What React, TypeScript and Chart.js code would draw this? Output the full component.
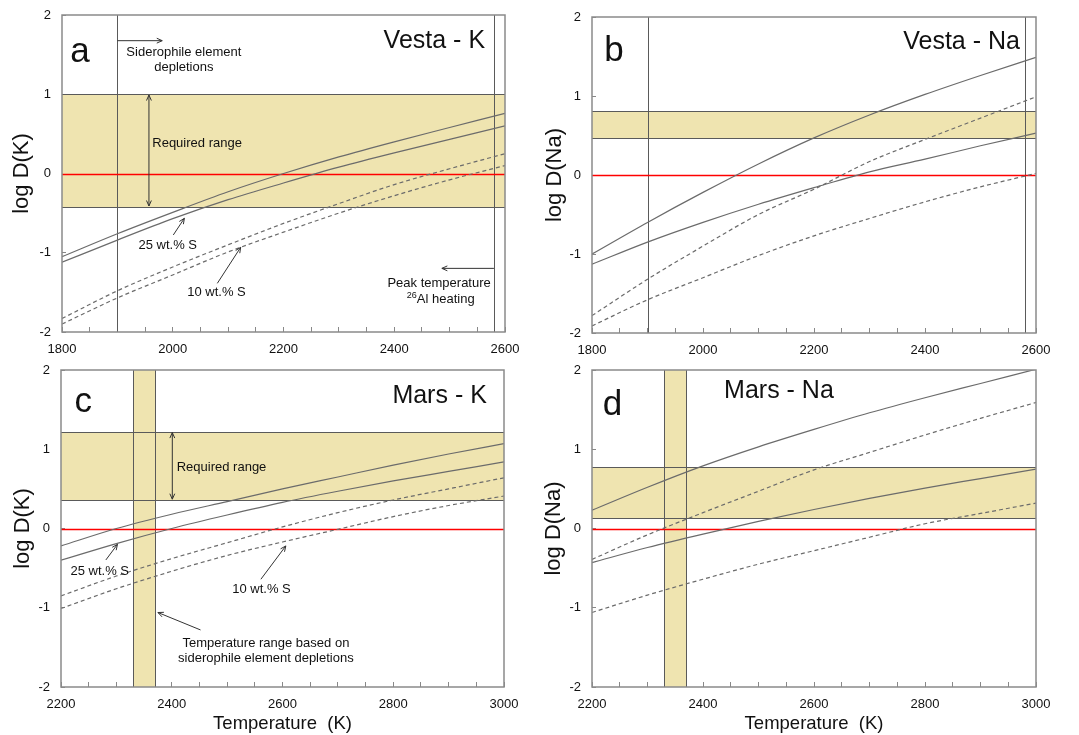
import React, { useEffect, useRef } from "react";
import { Chart, registerables } from "chart.js";
Chart.register(...registerables);

const FONT = "'Liberation Sans', Arial, sans-serif";
const BAND = "#efe4b0";
const CURVE = "#6b6b6b";

// ---------- data ----------
const vestaTemps = [1800, 1900, 2000, 2100, 2200, 2300, 2400, 2500, 2600];
const marsTemps = [2200, 2300, 2400, 2500, 2600, 2700, 2800, 2900, 3000];

const vestaK_solidUpper = [-1.05, -0.76, -0.49, -0.23, 0.0, 0.21, 0.4, 0.58, 0.76];
const vestaK_solidLower = [-1.12, -0.84, -0.57, -0.33, -0.12, 0.08, 0.26, 0.43, 0.6];
const vestaK_dashedUpper = [-1.83, -1.48, -1.18, -0.9, -0.63, -0.38, -0.14, 0.06, 0.25];
const vestaK_dashedLower = [-1.9, -1.57, -1.28, -0.99, -0.74, -0.5, -0.28, -0.08, 0.1];

const vestaNa_solidUpper = [-1.0, -0.6, -0.22, 0.14, 0.47, 0.76, 1.02, 1.26, 1.49];
const vestaNa_solidLower = [-1.13, -0.85, -0.6, -0.37, -0.16, 0.04, 0.2, 0.37, 0.53];
const vestaNa_dashedUpper = [-1.78, -1.32, -0.9, -0.5, -0.18, 0.17, 0.45, 0.72, 0.99];
const vestaNa_dashedLower = [-1.91, -1.58, -1.3, -1.02, -0.77, -0.55, -0.34, -0.15, 0.02];

const marsK_solidUpper = [-0.22, 0.0, 0.18, 0.34, 0.5, 0.65, 0.8, 0.94, 1.07];
const marsK_solidLower = [-0.4, -0.19, 0.0, 0.17, 0.33, 0.47, 0.6, 0.72, 0.84];
const marsK_dashedUpper = [-0.85, -0.6, -0.38, -0.18, 0.02, 0.2, 0.36, 0.5, 0.64];
const marsK_dashedLower = [-1.01, -0.76, -0.54, -0.34, -0.17, -0.01, 0.15, 0.29, 0.41];

const marsNa_solidUpper = [0.23, 0.52, 0.79, 1.03, 1.25, 1.46, 1.65, 1.83, 2.01];
const marsNa_solidLower = [-0.43, -0.24, -0.07, 0.09, 0.24, 0.38, 0.51, 0.63, 0.75];
const marsNa_dashedUpper = [-0.39, -0.08, 0.2, 0.47, 0.74, 0.96, 1.18, 1.39, 1.59];
const marsNa_dashedLower = [-1.06, -0.84, -0.64, -0.45, -0.28, -0.11, 0.06, 0.19, 0.32];

const yTicks = [-2, -1, 0, 1, 2];
const vestaXLabels = [1800, 2000, 2200, 2400, 2600];
const marsXLabels = [2200, 2400, 2600, 2800, 3000];

const vestaK_band = [-0.42, 1.0];
const vestaNa_band = [0.47, 0.81];
const marsK_band = [0.36, 1.22];
const marsNa_band = [0.13, 0.77];
const vesta_vLines = [1900, 2580];
const mars_vBand = [2330, 2370];

// ---------- annotations ----------
type Txt = { x: number; y: number; text: string; size: number; align?: CanvasTextAlign; sup?: string };
type Arr = { x1: number; y1: number; x2: number; y2: number; both?: boolean };

const vestaK_texts: Txt[] = [
  { x: 1832.5, y: 1.411, text: "a", size: 35, align: "center" },
  { x: 2564, y: 1.58, text: "Vesta - K", size: 25, align: "right" },
  { x: 2020, y: 1.483, text: "Siderophile element", size: 13, align: "center" },
  { x: 2020, y: 1.293, text: "depletions", size: 13, align: "center" },
  { x: 1963, y: 0.338, text: "Required range", size: 13, align: "left" },
  { x: 1991, y: -0.953, text: "25 wt.% S", size: 13, align: "center" },
  { x: 2079, y: -1.546, text: "10 wt.% S", size: 13, align: "center" },
  { x: 2481, y: -1.436, text: "Peak temperature", size: 13, align: "center" },
  { x: 2484, y: -1.638, text: "Al heating", sup: "26", size: 13, align: "center" },
];
const vestaK_arrows: Arr[] = [
  { x1: 1900, y1: 1.676, x2: 1981, y2: 1.676 },
  { x1: 1957, y1: 0.99, x2: 1957, y2: -0.41, both: true },
  { x1: 2001, y1: -0.776, x2: 2021, y2: -0.565 },
  { x1: 2080.5, y1: -1.386, x2: 2122.7, y2: -0.931 },
  { x1: 2580, y1: -1.197, x2: 2486, y2: -1.197 },
];
const vestaNa_texts: Txt[] = [
  { x: 1839.6, y: 1.443, text: "b", size: 35, align: "center" },
  { x: 2571, y: 1.6, text: "Vesta - Na", size: 25, align: "right" },
];
const marsK_texts: Txt[] = [
  { x: 2240, y: 1.474, text: "c", size: 35, align: "center" },
  { x: 2969, y: 1.587, text: "Mars - K", size: 25, align: "right" },
  { x: 2409, y: 0.726, text: "Required range", size: 13, align: "left" },
  { x: 2270, y: -0.587, text: "25 wt.% S", size: 13, align: "center" },
  { x: 2562, y: -0.818, text: "10 wt.% S", size: 13, align: "center" },
  { x: 2570, y: -1.49, text: "Temperature range based on", size: 13, align: "center" },
  { x: 2570, y: -1.68, text: "siderophile element depletions", size: 13, align: "center" },
];
const marsK_arrows: Arr[] = [
  { x1: 2401, y1: 1.21, x2: 2401, y2: 0.37, both: true },
  { x1: 2281, y1: -0.397, x2: 2302, y2: -0.2 },
  { x1: 2561, y1: -0.64, x2: 2606, y2: -0.22 },
  { x1: 2452, y1: -1.28, x2: 2375, y2: -1.06 },
];
const marsNa_texts: Txt[] = [
  { x: 2237, y: 1.432, text: "d", size: 35, align: "center" },
  { x: 2438, y: 1.65, text: "Mars - Na", size: 25, align: "left" },
];

type Panel = {
  id: string;
  left: number; top: number; w: number; h: number;
  yW: number; padRight: number; padTop: number; xH: number;
  yTitlePad: number; yTitle: string; xTitle: boolean;
  temps: number[]; xLabels: number[];
  series: number[][];
  band: number[]; vLines?: number[]; vBand?: number[];
  texts: Txt[]; arrows: Arr[];
};

const panels: Panel[] = [
  {
    id: "a", left: 0, top: 0, w: 540, h: 360, yW: 62, padRight: 35, padTop: 15, xH: 28,
    yTitlePad: 9, yTitle: "log D(K)", xTitle: false, temps: vestaTemps, xLabels: vestaXLabels,
    series: [vestaK_solidUpper, vestaK_solidLower, vestaK_dashedUpper, vestaK_dashedLower],
    band: vestaK_band, vLines: vesta_vLines, texts: vestaK_texts, arrows: vestaK_arrows,
  },
  {
    id: "b", left: 540, top: 0, w: 539, h: 360, yW: 52, padRight: 43, padTop: 17, xH: 27,
    yTitlePad: 2, yTitle: "log D(Na)", xTitle: false, temps: vestaTemps, xLabels: vestaXLabels,
    series: [vestaNa_solidUpper, vestaNa_solidLower, vestaNa_dashedUpper, vestaNa_dashedLower],
    band: vestaNa_band, vLines: vesta_vLines, texts: vestaNa_texts, arrows: [],
  },
  {
    id: "c", left: 0, top: 360, w: 540, h: 375, yW: 61, padRight: 36, padTop: 10, xH: 48,
    yTitlePad: 10, yTitle: "log D(K)", xTitle: true, temps: marsTemps, xLabels: marsXLabels,
    series: [marsK_solidUpper, marsK_solidLower, marsK_dashedUpper, marsK_dashedLower],
    band: marsK_band, vBand: mars_vBand, texts: marsK_texts, arrows: marsK_arrows,
  },
  {
    id: "d", left: 540, top: 360, w: 539, h: 375, yW: 52, padRight: 43, padTop: 10, xH: 48,
    yTitlePad: 1, yTitle: "log D(Na)", xTitle: true, temps: marsTemps, xLabels: marsXLabels,
    series: [marsNa_solidUpper, marsNa_solidLower, marsNa_dashedUpper, marsNa_dashedLower],
    band: marsNa_band, vBand: mars_vBand, texts: marsNa_texts, arrows: [],
  },
];

const seriesNames = ["25 wt.% S (a)", "25 wt.% S (b)", "10 wt.% S (a)", "10 wt.% S (b)"];

function head(ctx: CanvasRenderingContext2D, x1: number, y1: number, x2: number, y2: number) {
  const ang = Math.atan2(y2 - y1, x2 - x1);
  const L = 6, A = 0.42;
  ctx.moveTo(x2 - L * Math.cos(ang - A), y2 - L * Math.sin(ang - A));
  ctx.lineTo(x2, y2);
  ctx.lineTo(x2 - L * Math.cos(ang + A), y2 - L * Math.sin(ang + A));
}

function makePlugin(p: Panel) {
  return {
    id: "decor" + p.id,
    beforeDatasetsDraw(chart: any) {
      const { ctx, chartArea: a, scales } = chart;
      const x = scales.x, y = scales.y;
      ctx.save();
      ctx.beginPath();
      ctx.rect(a.left, a.top, a.right - a.left, a.bottom - a.top);
      ctx.clip();
      const yt = Math.round(y.getPixelForValue(p.band[1])) + 0.5;
      const yb = Math.round(y.getPixelForValue(p.band[0])) + 0.5;
      ctx.fillStyle = BAND;
      ctx.fillRect(a.left, yt, a.right - a.left, yb - yt);
      let xl = 0, xr = 0;
      if (p.vBand) {
        xl = Math.round(x.getPixelForValue(p.vBand[0])) + 0.5;
        xr = Math.round(x.getPixelForValue(p.vBand[1])) + 0.5;
        ctx.fillRect(xl, a.top, xr - xl, a.bottom - a.top);
      }
      ctx.strokeStyle = "#5a5a5a";
      ctx.lineWidth = 1;
      ctx.beginPath();
      ctx.moveTo(a.left, yt); ctx.lineTo(a.right, yt);
      ctx.moveTo(a.left, yb); ctx.lineTo(a.right, yb);
      if (p.vBand) {
        ctx.moveTo(xl, a.top); ctx.lineTo(xl, a.bottom);
        ctx.moveTo(xr, a.top); ctx.lineTo(xr, a.bottom);
      }
      (p.vLines || []).forEach((v) => {
        const xv = Math.round(x.getPixelForValue(v)) + 0.5;
        ctx.moveTo(xv, a.top); ctx.lineTo(xv, a.bottom);
      });
      ctx.stroke();
      const y0 = Math.round(y.getPixelForValue(0)) + 0.5;
      ctx.strokeStyle = "#ff0000";
      ctx.lineWidth = 1.5;
      ctx.beginPath();
      ctx.moveTo(a.left, y0); ctx.lineTo(a.right, y0);
      ctx.stroke();
      ctx.restore();
    },
    afterDatasetsDraw(chart: any) {
      const { ctx, chartArea: a, scales } = chart;
      const x = scales.x, y = scales.y;
      ctx.save();
      ctx.strokeStyle = "#8a8a8a";
      ctx.lineWidth = 1.5;
      ctx.strokeRect(a.left, a.top, a.right - a.left, a.bottom - a.top);
      ctx.fillStyle = "#111";
      ctx.textBaseline = "alphabetic";
      p.texts.forEach((t) => {
        const px = x.getPixelForValue(t.x), py = y.getPixelForValue(t.y);
        if (t.sup) {
          ctx.font = `9px ${FONT}`;
          const ws = ctx.measureText(t.sup).width;
          ctx.font = `${t.size}px ${FONT}`;
          const wm = ctx.measureText(t.text).width;
          const sx = px - (ws + wm) / 2;
          ctx.textAlign = "left";
          ctx.font = `9px ${FONT}`;
          ctx.fillText(t.sup, sx, py - 5);
          ctx.font = `${t.size}px ${FONT}`;
          ctx.fillText(t.text, sx + ws, py);
        } else {
          ctx.font = `${t.size}px ${FONT}`;
          ctx.textAlign = t.align || "left";
          ctx.fillText(t.text, px, py);
        }
      });
      ctx.strokeStyle = "#333";
      ctx.lineWidth = 1;
      p.arrows.forEach((r) => {
        const x1 = x.getPixelForValue(r.x1), y1 = y.getPixelForValue(r.y1);
        const x2 = x.getPixelForValue(r.x2), y2 = y.getPixelForValue(r.y2);
        ctx.beginPath();
        ctx.moveTo(x1, y1); ctx.lineTo(x2, y2);
        head(ctx, x1, y1, x2, y2);
        if (r.both) head(ctx, x2, y2, x1, y1);
        ctx.stroke();
      });
      ctx.restore();
    },
  };
}

function PanelChart({ p }: { p: Panel }) {
  const ref = useRef<HTMLCanvasElement>(null);
  useEffect(() => {
    const datasets = p.series.map((s, i) => ({
      label: seriesNames[i],
      data: p.temps.map((t, j) => ({ x: t, y: s[j] })),
      borderColor: CURVE,
      borderWidth: 1.2,
      borderDash: i >= 2 ? [4, 3] : [],
      pointRadius: 0,
      cubicInterpolationMode: "monotone" as const,
      fill: false,
    }));
    const chart = new Chart(ref.current!, {
      type: "line",
      data: { datasets },
      plugins: [makePlugin(p)],
      options: {
        responsive: false,
        animation: false,
        events: [],
        layout: { padding: { left: 0, right: p.padRight, top: p.padTop, bottom: 0 } },
        plugins: { legend: { display: false }, tooltip: { enabled: false } },
        scales: {
          x: {
            type: "linear",
            min: p.temps[0],
            max: p.temps[p.temps.length - 1],
            ticks: {
              stepSize: 50,
              autoSkip: false,
              maxRotation: 0,
              padding: 15,
              color: "#111",
              font: { family: FONT, size: 13 },
              callback: (v: any) => (p.xLabels.includes(Number(v)) ? String(v) : ""),
            },
            grid: { drawOnChartArea: false, drawTicks: true, tickLength: -5, tickColor: "#888", tickWidth: 1 },
            border: { display: false },
            title: {
              display: p.xTitle,
              text: "Temperature  (K)",
              color: "#111",
              font: { family: FONT, size: 18.5 },
              padding: { top: 0, bottom: 0 },
            },
            afterFit: (s: any) => { s.height = p.xH; s.paddingLeft = 0; s.paddingRight = 0; },
          },
          y: {
            type: "linear",
            min: yTicks[0],
            max: yTicks[yTicks.length - 1],
            ticks: {
              stepSize: 1,
              padding: 15,
              color: "#111",
              font: { family: FONT, size: 13 },
              callback: (v: any) => (yTicks.includes(Number(v)) ? String(v) : ""),
            },
            grid: { drawOnChartArea: false, drawTicks: true, tickLength: -4, tickColor: "#888", tickWidth: 1 },
            border: { display: false },
            title: {
              display: true,
              text: p.yTitle,
              color: "#111",
              font: { family: FONT, size: 22 },
              padding: { top: p.yTitlePad, bottom: 0 },
            },
            afterFit: (s: any) => { s.width = p.yW; s.paddingTop = 0; s.paddingBottom = 0; },
          },
        },
      } as any,
    });
    return () => chart.destroy();
  }, []);
  return (
    <canvas
      ref={ref}
      width={p.w}
      height={p.h}
      style={{ position: "absolute", left: p.left, top: p.top, width: p.w, height: p.h }}
    />
  );
}

export default function App() {
  return (
    <div style={{ position: "absolute", left: 0, top: 0, width: 1079, height: 735, background: "#fff" }}>
      {panels.map((p) => (
        <PanelChart key={p.id} p={p} />
      ))}
    </div>
  );
}
